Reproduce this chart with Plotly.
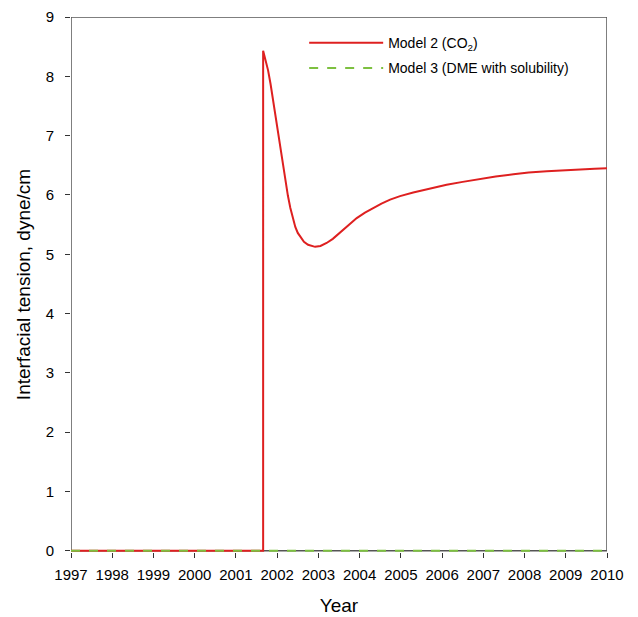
import plotly.graph_objects as go

# Model 2 (CO2) interfacial tension
years_m2 = [1997.0, 2001.66, 2001.66, 2001.72, 2001.78, 2001.84, 2001.90, 2001.96, 2002.02,
            2002.08, 2002.14, 2002.20, 2002.26, 2002.32, 2002.38, 2002.44, 2002.50, 2002.57,
            2002.65, 2002.75, 2002.84, 2002.92, 2003.05, 2003.2, 2003.35, 2003.52,
            2003.72, 2003.93, 2004.13, 2004.33, 2004.53, 2004.74, 2004.98, 2005.30, 2005.7,
            2006.11, 2006.5, 2006.92, 2007.3, 2007.73, 2008.1, 2008.54, 2009.0, 2009.35,
            2009.7, 2010.0]
vals_m2 = [0.0, 0.0, 8.43, 8.28, 8.10, 7.87, 7.60, 7.32, 7.03,
           6.75, 6.48, 6.23, 5.99, 5.78, 5.60, 5.46, 5.36, 5.28,
           5.21, 5.16, 5.135, 5.125, 5.14, 5.19, 5.26, 5.36,
           5.49, 5.61, 5.70, 5.78, 5.855, 5.92, 5.98, 6.04, 6.11,
           6.17, 6.22, 6.27, 6.31, 6.35, 6.38, 6.40, 6.42, 6.43,
           6.44, 6.45]

# Model 3 (DME with solubility)
years_m3 = [1997.0, 2010.0]
vals_m3 = [0.0, 0.0]

x_ticks = list(range(1997, 2011))
y_ticks = list(range(0, 10))

font_family = "Liberation Sans, Arial, sans-serif"

fig = go.Figure()
fig.add_trace(go.Scatter(x=years_m2, y=vals_m2, mode="lines",
                         name="Model 2 (CO<sub>2</sub>)", legendgroup="a",
                         line=dict(color="rgb(222,32,32)", width=2)))
fig.add_trace(go.Scatter(x=years_m3, y=vals_m3, mode="lines",
                         name="Model 3 (DME with solubility)", legendgroup="b",
                         line=dict(color="rgb(125,192,64)", width=2, dash="dash")))

# frame of the plot area, drawn beneath the traces
fig.add_shape(type="rect", xref="x", yref="y", x0=x_ticks[0], x1=x_ticks[-1],
              y0=y_ticks[0], y1=y_ticks[-1], layer="below",
              line=dict(color="#555555", width=1.5))

axis_common = dict(showgrid=False, zeroline=False, showline=False, automargin=False,
                   ticks="outside", ticklen=5, tickcolor="#333333",
                   tickfont=dict(size=15, color="black", family=font_family))

fig.update_layout(
    width=638, height=617,
    margin=dict(l=71, r=31, t=17, b=65),
    paper_bgcolor="white", plot_bgcolor="white",
    font=dict(family=font_family, color="black"),
    xaxis=dict(range=[1997, 2010], tickvals=x_ticks, ticktext=[str(t) for t in x_ticks],
               ticklabelstandoff=4,
               title=dict(text="Year", font=dict(size=19), standoff=16), **axis_common),
    yaxis=dict(range=[-0.02, 9], tickvals=y_ticks, ticklabelstandoff=8,
               title=dict(text="Interfacial tension, dyne/cm", font=dict(size=19), standoff=10),
               **axis_common),
    legend=dict(x=0.435, y=0.981, xanchor="left", yanchor="top", bgcolor="rgba(0,0,0,0)",
                font=dict(size=14, family=font_family), itemwidth=74,
                traceorder="grouped", tracegroupgap=4),
    showlegend=True,
)

fig.write_html("out.html")
